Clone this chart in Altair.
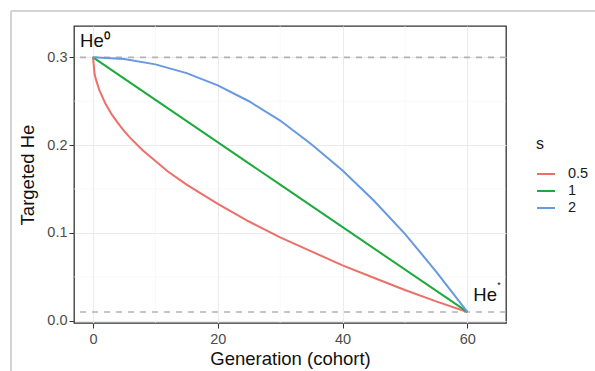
import altair as alt
import pandas as pd

# Data
gen_red = [0, 0.25, 0.5, 1, 2, 3, 4, 5, 6, 8, 10, 12, 15, 20, 25, 30, 35, 40, 45, 50, 55, 60]
he_red = [0.300, 0.281, 0.274, 0.263, 0.247, 0.235, 0.225, 0.216, 0.208, 0.194, 0.182, 0.170,
          0.155, 0.133, 0.113, 0.095, 0.079, 0.063, 0.049, 0.035, 0.022, 0.010]
gen_green = [0, 30, 60]
he_green = [0.300, 0.155, 0.010]
gen_blue = [0, 5, 10, 15, 20, 25, 30, 35, 40, 45, 50, 55, 60]
he_blue = [0.300, 0.298, 0.292, 0.282, 0.268, 0.250, 0.228, 0.201, 0.171, 0.137, 0.099, 0.056, 0.010]
s_levels = ["0.5", "1", "2"]
colors = ["#EC6F69", "#1DAA3C", "#6699E0"]

he0 = 0.3
he_star = 0.01
gen_end = 60
hlines = [he0, he_star]
x_major = [0, 20, 40, 60]
x_minor = [10, 30, 50]
y_major = [0.0, 0.1, 0.2, 0.3]
y_minor = [0.05, 0.15, 0.25]

rows = []
for g, h in zip(gen_red, he_red):
    rows.append({"gen": g, "he": h, "s": "0.5"})
for g, h in zip(gen_green, he_green):
    rows.append({"gen": g, "he": h, "s": "1"})
for g, h in zip(gen_blue, he_blue):
    rows.append({"gen": g, "he": h, "s": "2"})
df = pd.DataFrame(rows)

FONT = "Liberation Sans"
xs = alt.Scale(domain=[-3.05, 66.2], nice=False, zero=False)
ys = alt.Scale(domain=[-0.0026, 0.3357], nice=False, zero=False)
xaxis = alt.Axis(values=x_major, format="d", grid=True)
yaxis = alt.Axis(values=y_major, format=".1f", grid=True)
XT = "Generation (cohort)"
YT = "Targeted He"


def X(f):
    return alt.X(f, scale=xs, axis=xaxis, title=XT)


def Y(f):
    return alt.Y(f, scale=ys, axis=yaxis, title=YT)


xminor = alt.Chart(pd.DataFrame({"gen": x_minor})).mark_rule(color="#f5f5f5", strokeWidth=0.6).encode(
    x=X("gen:Q"))
yminor = alt.Chart(pd.DataFrame({"he": y_minor})).mark_rule(color="#f5f5f5", strokeWidth=0.6).encode(
    y=Y("he:Q"))

dashed = alt.Chart(pd.DataFrame({"he": hlines})).mark_rule(
    color="#b3b3b3", strokeWidth=1.6, strokeDash=[6, 6]).encode(
    y=Y("he:Q"))

lines = alt.Chart(df).mark_line(strokeWidth=2).encode(
    x=X("gen:Q"),
    y=Y("he:Q"),
    color=alt.Color("s:N", scale=alt.Scale(domain=s_levels, range=colors),
                    legend=alt.Legend(title="s", orient="none", legendX=462, legendY=110,
                                      symbolType="stroke", symbolStrokeWidth=2, symbolSize=324,
                                      labelFontSize=14.5, titleFontSize=16, titleFontWeight="normal",
                                      labelColor="#1a1a1a", titleColor="#1a1a1a",
                                      labelOffset=12, rowPadding=0, titlePadding=12,
                                      labelFont=FONT, titleFont=FONT)),
    order="gen:Q",
)

lab0 = alt.Chart(pd.DataFrame({"gen": [0], "he": [he0], "t": ["He⁰"]})).mark_text(
    align="left", baseline="middle", dx=-13, dy=-16, fontSize=18.5, font=FONT, color="#111111").encode(
    x=X("gen:Q"), y=Y("he:Q"), text="t:N")
labs = alt.Chart(pd.DataFrame({"gen": [gen_end], "he": [he_star], "t": ["He"]})).mark_text(
    align="left", baseline="middle", dx=6, dy=-17, fontSize=18.5, font=FONT, color="#111111").encode(
    x=X("gen:Q"), y=Y("he:Q"), text="t:N")
labstar = alt.Chart(pd.DataFrame({"gen": [gen_end], "he": [he_star], "t": ["*"]})).mark_text(
    align="left", baseline="middle", dx=30, dy=-27, fontSize=9, font=FONT, color="#111111").encode(
    x=X("gen:Q"), y=Y("he:Q"), text="t:N")

frame_v = alt.Chart(pd.DataFrame({"a": [0]})).mark_rule(color="#d4d4d4", strokeWidth=2, clip=False).encode(
    x=alt.value(-63), y=alt.value(-15), y2=alt.value(360))
frame_h = alt.Chart(pd.DataFrame({"a": [0]})).mark_rule(color="#d4d4d4", strokeWidth=2, clip=False).encode(
    x=alt.value(-63), x2=alt.value(540), y=alt.value(-15))

chart = alt.layer(xminor, yminor, dashed, lines, lab0, labs, labstar, frame_v, frame_h).properties(
    width=432, height=297,
    padding={"left": 74, "top": 26, "right": 89, "bottom": 48},
    autosize=alt.AutoSizeParams(type="none"),
    background="white",
).configure_axis(
    gridColor="#ebebeb", gridWidth=1.1, domain=False,
    tickColor="#333333", tickSize=5, tickWidth=1,
    labelColor="#4d4d4d", labelFontSize=14.5, labelFont=FONT,
    titleColor="#111111", titleFontSize=18.5, titleFont=FONT, titleFontWeight="normal",
    labelPadding=3,
).configure_axisX(titlePadding=4, labelPadding=4).configure_axisY(titlePadding=9, labelPadding=2).configure_view(
    stroke="#333333", strokeWidth=1.3)

chart.save("out.html", embed_options={"renderer": "svg", "actions": False})
